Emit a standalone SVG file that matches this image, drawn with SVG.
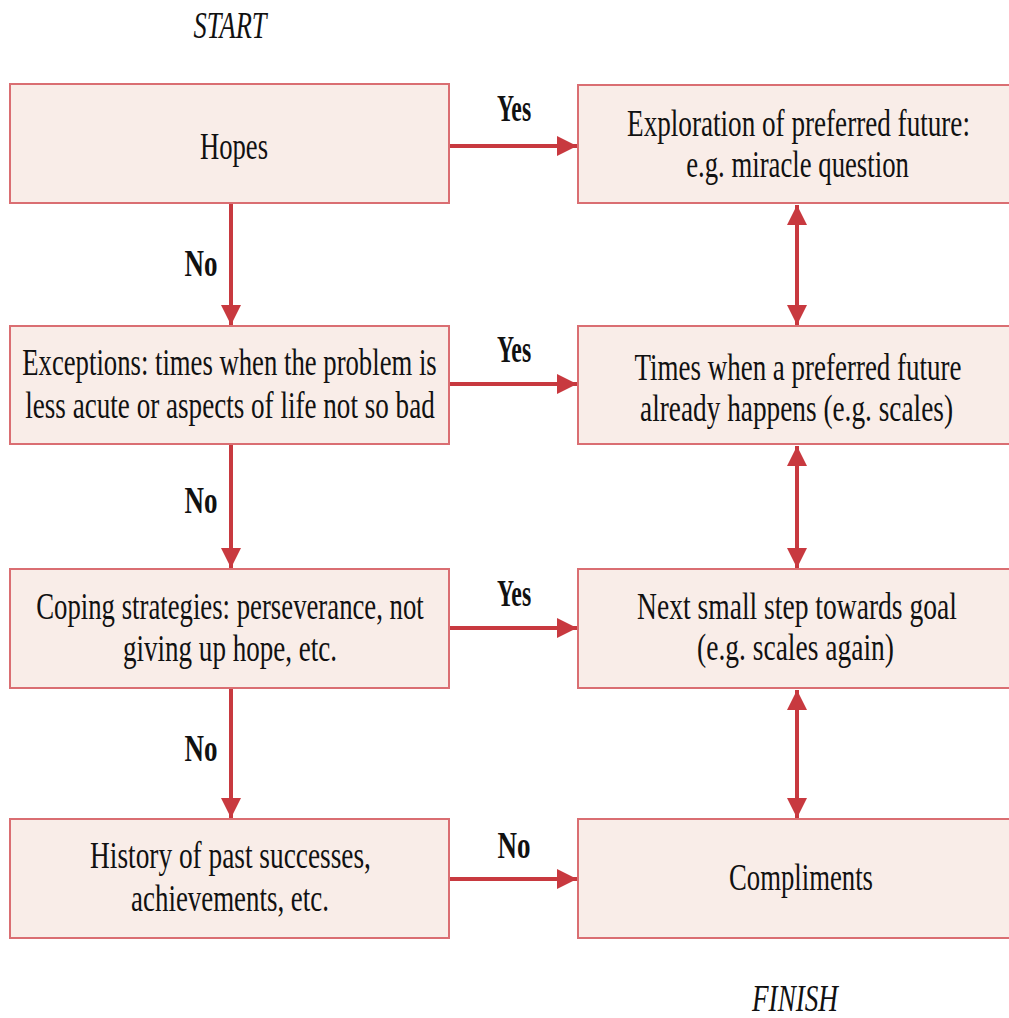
<svg xmlns="http://www.w3.org/2000/svg" width="1009" height="1018" viewBox="0 0 1009 1018">
<defs>
<style>
.box{fill:#f9ede8;stroke:#da6e72;stroke-width:2}
.t{font-family:"Liberation Serif",serif;font-size:37px;fill:#111;text-anchor:middle}
.i{font-style:italic}
.b{font-weight:bold}
.c{stroke:#c8393f;stroke-width:4;fill:none}
</style>
<marker id="ah" viewBox="0 0 10 10" refX="10" refY="5" markerWidth="5" markerHeight="5" orient="auto-start-reverse" markerUnits="strokeWidth">
<path d="M0,0 L10,5 L0,10 z" fill="#c8393f"/>
</marker>
</defs>
<rect width="1009" height="1018" fill="#fff"/>
<text class="t i" transform="translate(230,38) scale(0.715,1)">START</text>
<text class="t i" transform="translate(795,1011) scale(0.734,1)">FINISH</text>

<g id="connectors">
<line class="c" x1="231" y1="203" x2="231" y2="325" marker-end="url(#ah)"/>
<line class="c" x1="231" y1="444" x2="231" y2="568" marker-end="url(#ah)"/>
<line class="c" x1="231" y1="688" x2="231" y2="818" marker-end="url(#ah)"/>
<line class="c" x1="449" y1="146" x2="577" y2="146" marker-end="url(#ah)"/>
<line class="c" x1="449" y1="384" x2="577" y2="384" marker-end="url(#ah)"/>
<line class="c" x1="449" y1="628" x2="577" y2="628" marker-end="url(#ah)"/>
<line class="c" x1="449" y1="879" x2="577" y2="879" marker-end="url(#ah)"/>
<line class="c" x1="797" y1="205" x2="797" y2="325" marker-start="url(#ah)" marker-end="url(#ah)"/>
<line class="c" x1="797" y1="446" x2="797" y2="568" marker-start="url(#ah)" marker-end="url(#ah)"/>
<line class="c" x1="797" y1="690" x2="797" y2="818" marker-start="url(#ah)" marker-end="url(#ah)"/>
<text class="t b" transform="translate(514,121) scale(0.64,1)">Yes</text>
<text class="t b" transform="translate(514,362) scale(0.64,1)">Yes</text>
<text class="t b" transform="translate(514,606) scale(0.64,1)">Yes</text>
<text class="t b" transform="translate(514,858) scale(0.73,1)">No</text>
<text class="t b" transform="translate(201,276) scale(0.73,1)">No</text>
<text class="t b" transform="translate(201,513) scale(0.73,1)">No</text>
<text class="t b" transform="translate(201,761) scale(0.73,1)">No</text>
</g>

<g id="hopes">
<rect class="box" x="10" y="84" width="439" height="119"/>
<text class="t" transform="translate(234,159) scale(0.72,1)">Hopes</text>
</g>
<g id="exceptions">
<rect class="box" x="10" y="326" width="439" height="118"/>
<text class="t" transform="translate(229.5,375) scale(0.722,1)">Exceptions: times when the problem is</text>
<text class="t" transform="translate(230,418) scale(0.733,1)">less acute or aspects of life not so bad</text>
</g>
<g id="coping">
<rect class="box" x="10" y="569" width="439" height="119"/>
<text class="t" transform="translate(230,619) scale(0.723,1)">Coping strategies: perseverance, not</text>
<text class="t" transform="translate(230,661) scale(0.731,1)">giving up hope, etc.</text>
</g>
<g id="history">
<rect class="box" x="10" y="819" width="439" height="119"/>
<text class="t" transform="translate(230.5,868) scale(0.739,1)">History of past successes,</text>
<text class="t" transform="translate(230,911) scale(0.727,1)">achievements, etc.</text>
</g>
<g id="exploration">
<rect class="box" x="578" y="85" width="440" height="118"/>
<text class="t" transform="translate(798.5,136) scale(0.734,1)">Exploration of preferred future:</text>
<text class="t" transform="translate(797.5,177) scale(0.723,1)">e.g. miracle question</text>
</g>
<g id="times">
<rect class="box" x="578" y="326" width="440" height="118"/>
<text class="t" transform="translate(798,380) scale(0.729,1)">Times when a preferred future</text>
<text class="t" transform="translate(796.5,421) scale(0.738,1)">already happens (e.g. scales)</text>
</g>
<g id="nextstep">
<rect class="box" x="578" y="569" width="440" height="119"/>
<text class="t" transform="translate(797,619) scale(0.745,1)">Next small step towards goal</text>
<text class="t" transform="translate(795.5,660) scale(0.743,1)">(e.g. scales again)</text>
</g>
<g id="compliments">
<rect class="box" x="578" y="819" width="440" height="119"/>
<text class="t" transform="translate(801,890) scale(0.722,1)">Compliments</text>
</g>
</svg>
